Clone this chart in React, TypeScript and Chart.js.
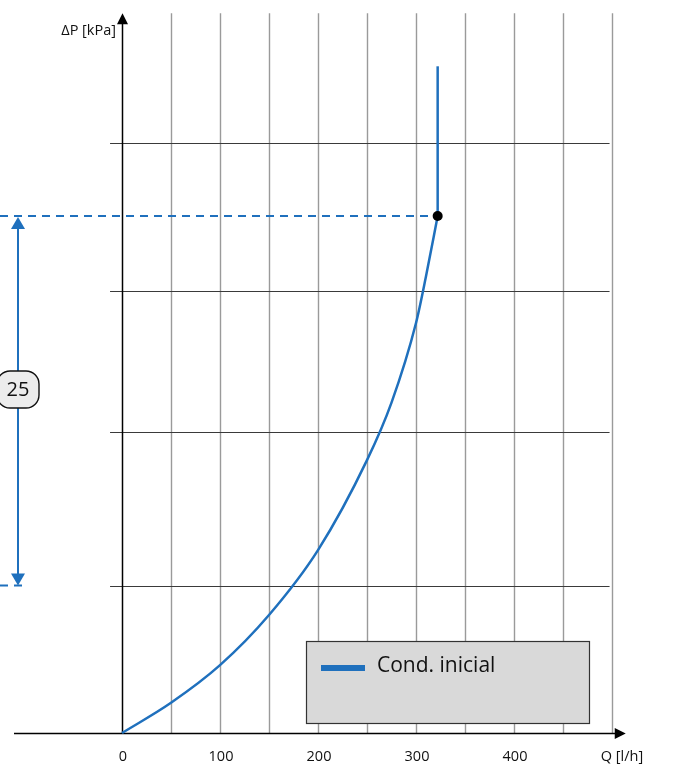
import React, { useEffect, useRef } from "react";
import { Chart, registerables } from "chart.js";

Chart.register(...registerables);

// ---- data ----
const flowValues = [0, 50, 100, 150, 200, 250, 275, 300, 310, 322.1];
const dpValues = [0, 2.05, 4.6, 8.0, 12.4, 18.5, 22.4, 27.8, 30.9, 35.05];
const operatingFlow = 322.1;
const operatingDp = 35.05;
const verticalTopDp = 45.2;
const referenceDp = 10;
const dimensionLabel = "25";
const xTickValues = [0, 100, 200, 300, 400];
const xGridValues = [0, 50, 100, 150, 200, 250, 300, 350, 400, 450, 500];
const yGridValues = [10, 20.4, 30, 40];
const seriesLabel = "Cond. inicial";
const xAxisTitle = "Q [l/h]";
const yAxisTitle = "ΔP [kPa]";

const X_MIN = -124.49;
const X_MAX = 585.71;
const Y_MIN = -2.169;
const Y_MAX = 49.695;

const BLUE = "#1f70bd";
const FONT = "'Open Sans', 'Noto Sans', sans-serif";

const drawPlugin = {
  id: "decor",
  beforeDatasetsDraw(chart: any) {
    const ctx = chart.ctx;
    const xs = chart.scales.x;
    const ys = chart.scales.y;
    const x0 = Math.round(xs.getPixelForValue(0)) + 0.5;
    const y0 = Math.round(ys.getPixelForValue(0)) + 0.5;
    const yTop = ys.getPixelForValue(48.8);
    ctx.save();
    // vertical grid
    ctx.strokeStyle = "#9a9a9a";
    ctx.lineWidth = 1.4;
    xGridValues.forEach((v) => {
      if (v === 0) return;
      const px = Math.round(xs.getPixelForValue(v)) + 0.5;
      ctx.beginPath();
      ctx.moveTo(px, yTop);
      ctx.lineTo(px, y0);
      ctx.stroke();
    });
    // horizontal grid
    ctx.strokeStyle = "#3a3a3a";
    ctx.lineWidth = 1.2;
    yGridValues.forEach((v) => {
      const py = Math.round(ys.getPixelForValue(v)) + 0.5;
      ctx.beginPath();
      ctx.moveTo(xs.getPixelForValue(-12.2), py);
      ctx.lineTo(xs.getPixelForValue(497.5), py);
      ctx.stroke();
    });
    // axes
    ctx.strokeStyle = "#000";
    ctx.fillStyle = "#000";
    ctx.lineWidth = 1.5;
    ctx.beginPath();
    ctx.moveTo(x0, yTop + 8);
    ctx.lineTo(x0, y0);
    ctx.stroke();
    ctx.beginPath();
    ctx.moveTo(x0, yTop);
    ctx.lineTo(x0 - 5.5, yTop + 11);
    ctx.lineTo(x0 + 5.5, yTop + 11);
    ctx.closePath();
    ctx.fill();
    const xEnd = xs.getPixelForValue(514);
    ctx.beginPath();
    ctx.moveTo(xs.getPixelForValue(-110.2), y0);
    ctx.lineTo(xEnd - 8, y0);
    ctx.stroke();
    ctx.beginPath();
    ctx.moveTo(xEnd, y0);
    ctx.lineTo(xEnd - 11, y0 - 5.5);
    ctx.lineTo(xEnd - 11, y0 + 5.5);
    ctx.closePath();
    ctx.fill();
    ctx.restore();
  },
  afterDatasetsDraw(chart: any) {
    const ctx = chart.ctx;
    const xs = chart.scales.x;
    const ys = chart.scales.y;
    ctx.save();
    // dimension arrow
    const ax = 18;
    const yA = ys.getPixelForValue(operatingDp) + 1;
    const yB = ys.getPixelForValue(referenceDp);
    ctx.strokeStyle = BLUE;
    ctx.fillStyle = BLUE;
    ctx.lineWidth = 2;
    ctx.beginPath();
    ctx.moveTo(ax, yA + 8);
    ctx.lineTo(ax, yB - 8);
    ctx.stroke();
    ctx.beginPath();
    ctx.moveTo(ax, yA);
    ctx.lineTo(ax - 7, yA + 12);
    ctx.lineTo(ax + 7, yA + 12);
    ctx.closePath();
    ctx.fill();
    ctx.beginPath();
    ctx.moveTo(ax, yB);
    ctx.lineTo(ax - 7, yB - 12);
    ctx.lineTo(ax + 7, yB - 12);
    ctx.closePath();
    ctx.fill();
    // label box
    const bx = -3, by = 371, bw = 42, bh = 37, r = 13;
    ctx.beginPath();
    ctx.moveTo(bx + r, by);
    ctx.arcTo(bx + bw, by, bx + bw, by + bh, r);
    ctx.arcTo(bx + bw, by + bh, bx, by + bh, r);
    ctx.arcTo(bx, by + bh, bx, by, r);
    ctx.arcTo(bx, by, bx + bw, by, r);
    ctx.closePath();
    ctx.fillStyle = "#ececec";
    ctx.fill();
    ctx.strokeStyle = "#111";
    ctx.lineWidth = 1.4;
    ctx.stroke();
    ctx.fillStyle = "#111";
    ctx.font = `20px ${FONT}`;
    ctx.textAlign = "center";
    ctx.textBaseline = "middle";
    ctx.fillText(dimensionLabel, ax, by + bh / 2 + 1);

    // legend
    const lx = 306.5, ly = 641.5, lw = 283, lh = 82;
    ctx.fillStyle = "#d9d9d9";
    ctx.fillRect(lx, ly, lw, lh);
    ctx.strokeStyle = "#333";
    ctx.lineWidth = 1.2;
    ctx.strokeRect(lx, ly, lw, lh);
    ctx.fillStyle = BLUE;
    ctx.fillRect(321, 665, 44, 6);
    ctx.fillStyle = "#111";
    ctx.font = `21px ${FONT}`;
    ctx.textAlign = "left";
    ctx.textBaseline = "alphabetic";
    ctx.fillText(seriesLabel, 377, 672);

    // tick labels
    ctx.font = `14.5px ${FONT}`;
    ctx.textAlign = "center";
    ctx.textBaseline = "middle";
    xTickValues.forEach((v) => {
      ctx.fillText(String(v), xs.getPixelForValue(v) + 1, 757);
    });
    ctx.fillText(xAxisTitle, 622, 757);
    ctx.textAlign = "right";
    ctx.fillText(yAxisTitle, 116, 31);
    ctx.restore();
  },
};

export default function App() {
  const ref = useRef<HTMLCanvasElement>(null);
  useEffect(() => {
    document.body.style.margin = "0";
    const curve = flowValues.map((q, i) => ({ x: q, y: dpValues[i] }));
    const chart = new Chart(ref.current as HTMLCanvasElement, {
      type: "line",
      data: {
        datasets: [
          {
            label: "point",
            data: [{ x: operatingFlow, y: operatingDp }],
            showLine: false,
            pointRadius: 5,
            pointBackgroundColor: "#000",
            pointBorderWidth: 0,
          },
          {
            label: seriesLabel,
            data: curve,
            borderColor: BLUE,
            borderWidth: 2.5,
            pointRadius: 0,
            cubicInterpolationMode: "monotone",
          },
          {
            label: "vertical",
            data: [
              { x: operatingFlow, y: operatingDp },
              { x: operatingFlow, y: verticalTopDp },
            ],
            borderColor: BLUE,
            borderWidth: 2.5,
            pointRadius: 0,
          },
          {
            label: "dashTop",
            data: [
              { x: X_MIN, y: operatingDp },
              { x: operatingFlow, y: operatingDp },
            ],
            borderColor: BLUE,
            borderWidth: 2,
            borderDash: [8, 6],
            pointRadius: 0,
          },
          {
            label: "dashBottom",
            data: [
              { x: X_MIN, y: referenceDp },
              { x: -102, y: referenceDp },
            ],
            borderColor: BLUE,
            borderWidth: 2,
            borderDash: [8, 6],
            pointRadius: 0,
          },
        ],
      } as any,
      options: {
        animation: false,
        responsive: false,
        devicePixelRatio: 1,
        layout: { padding: 0, autoPadding: false },
        plugins: { legend: { display: false }, tooltip: { enabled: false } },
        events: [],
        scales: {
          x: { type: "linear", min: X_MIN, max: X_MAX, display: false },
          y: { type: "linear", min: Y_MIN, max: Y_MAX, display: false },
        },
      } as any,
      plugins: [drawPlugin],
    });
    return () => chart.destroy();
  }, []);
  return (
    <div style={{ width: 696, height: 765, background: "#fff" }}>
      <canvas ref={ref} width={696} height={765} />
    </div>
  );
}
